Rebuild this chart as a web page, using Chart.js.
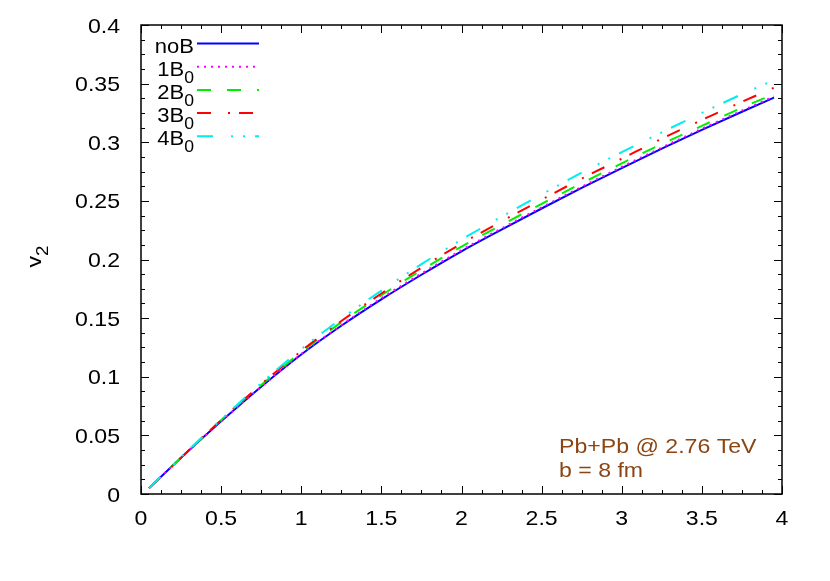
<!DOCTYPE html>
<html>
<head>
<meta charset="utf-8">
<script src="https://cdn.jsdelivr.net/npm/chart.js@4"></script>
<style>body{margin:0;background:#fff}</style>
</head>
<body>
<canvas id="myChart" width="830" height="581"></canvas>
<script>
// values
const xValues = [0.05, 0.25, 0.5, 0.75, 1, 1.25, 1.5, 1.75, 2, 2.25, 2.5, 2.75, 3, 3.25, 3.5, 3.75, 3.95];
const noB = [0.005, 0.031, 0.062, 0.0915, 0.119, 0.1435, 0.166, 0.187, 0.207, 0.2255, 0.2435, 0.261, 0.278, 0.2945, 0.3105, 0.326, 0.338];
const b1 = [0.005, 0.031, 0.062, 0.0915, 0.1195, 0.144, 0.167, 0.188, 0.208, 0.2265, 0.2445, 0.262, 0.279, 0.2955, 0.3115, 0.327, 0.339];
const b2 = [0.005, 0.031, 0.063, 0.093, 0.121, 0.1465, 0.1695, 0.191, 0.211, 0.2295, 0.2475, 0.265, 0.282, 0.2985, 0.314, 0.3295, 0.341];
const b3 = [0.005, 0.031, 0.063, 0.0935, 0.122, 0.1475, 0.171, 0.193, 0.2135, 0.2325, 0.251, 0.269, 0.286, 0.303, 0.319, 0.3345, 0.3465];
const b4 = [0.005, 0.0315, 0.0635, 0.0945, 0.1235, 0.1495, 0.1735, 0.196, 0.217, 0.2365, 0.2555, 0.274, 0.2915, 0.3085, 0.325, 0.341, 0.353];
const seriesLabels = ['noB', '1B_0', '2B_0', '3B_0', '4B_0'];
const xTicks = [0, 0.5, 1, 1.5, 2, 2.5, 3, 3.5, 4];
const yTicks = [0, 0.05, 0.1, 0.15, 0.2, 0.25, 0.3, 0.35, 0.4];
const yTitle = 'v_2';
const noteLines = ['Pb+Pb @ 2.76 TeV', 'b = 8 fm'];

const colors = ['#0000ff', '#ff00ff', '#00ee00', '#ff0000', '#00eeee'];
const dashes = [[], [2, 5], [14, 16], [14, 17, 2, 9], [16, 18, 2, 10, 2, 10]];
const FONT = '"Liberation Sans", Arial, sans-serif';
const SX = 1.1; // gnuplot's text is a little wider than Liberation Sans

const allSeries = [noB, b1, b2, b3, b4];
const datasets = allSeries.map((s, i) => ({
    label: seriesLabels[i],
    data: s.map((v, j) => ({ x: xValues[j], y: v })),
    borderColor: colors[i],
    borderWidth: 2,
    borderDash: dashes[i],
    pointRadius: 0,
    fill: false,
    cubicInterpolationMode: 'monotone',
    order: 5 - i,
}));

const fmt = v => String(+v.toFixed(2));

// plain text, stretched by SX
const drawText = function(ctx, text, x, y, size, align) {
    ctx.save();
    ctx.translate(x, y);
    ctx.scale(SX, 1);
    ctx.font = size + 'px ' + FONT;
    ctx.textAlign = align;
    ctx.textBaseline = 'alphabetic';
    ctx.fillText(text, 0, 0);
    ctx.restore();
};

// text with a gnuplot style "_" subscript
const drawSub = function(ctx, text, x, y, size, align) {
    const parts = text.split('_');
    const subSize = Math.round(size * 0.8);
    ctx.font = size + 'px ' + FONT;
    const w1 = ctx.measureText(parts[0]).width * SX;
    ctx.font = subSize + 'px ' + FONT;
    const w2 = parts[1] ? ctx.measureText(parts[1]).width * SX : 0;
    let x0 = x;
    if (align === 'right') x0 = x - w1 - w2;
    if (align === 'center') x0 = x - (w1 + w2) / 2;
    drawText(ctx, parts[0], x0, y, size, 'left');
    if (parts[1]) drawText(ctx, parts[1], x0 + w1, y + 7, subSize, 'left');
};

const framePlugin = {
    id: 'frame',
    afterDraw(chart) {
        const ctx = chart.ctx;
        const a = chart.chartArea;
        const xs = chart.scales.x, ys = chart.scales.y;
        ctx.save();
        ctx.strokeStyle = '#000';
        ctx.lineWidth = 1;
        // ticks on all four sides, pointing inward
        for (let i = 0; i <= 32; i++) {
            const px = Math.round(xs.getPixelForValue(i * 0.125)) + 0.5;
            const len = i % 4 === 0 ? 8 : 4;
            ctx.beginPath();
            ctx.moveTo(px, a.bottom); ctx.lineTo(px, a.bottom - len);
            ctx.moveTo(px, a.top); ctx.lineTo(px, a.top + len);
            ctx.stroke();
        }
        for (let i = 0; i <= 32; i++) {
            const py = Math.round(ys.getPixelForValue(i * 0.0125)) + 0.5;
            const len = i % 4 === 0 ? 8 : 4;
            ctx.beginPath();
            ctx.moveTo(a.left, py); ctx.lineTo(a.left + len, py);
            ctx.moveTo(a.right, py); ctx.lineTo(a.right - len, py);
            ctx.stroke();
        }
        ctx.lineWidth = 1.5;
        ctx.strokeRect(a.left, a.top, a.right - a.left, a.bottom - a.top);

        // tick labels
        ctx.fillStyle = '#000';
        xs.ticks.forEach(t => drawText(ctx, fmt(t.value), xs.getPixelForValue(t.value), a.bottom + 31, 21, 'center'));
        ys.ticks.forEach(t => drawText(ctx, fmt(t.value), a.left - 21, ys.getPixelForValue(t.value) + 7.5, 21, 'right'));

        // legend, gnuplot style: label right aligned, sample to the right
        chart.data.datasets.forEach((d, i) => {
            const ly = 43.5 + i * 23.2;
            ctx.fillStyle = '#000';
            drawSub(ctx, d.label, 194, ly + 9, 20, 'right');
            ctx.strokeStyle = d.borderColor;
            ctx.lineWidth = 2;
            ctx.setLineDash(d.borderDash);
            ctx.beginPath();
            ctx.moveTo(197, ly); ctx.lineTo(259, ly);
            ctx.stroke();
            ctx.setLineDash([]);
        });

        // y title
        ctx.save();
        ctx.translate(41, (a.top + a.bottom) / 2 - 3);
        ctx.rotate(-Math.PI / 2);
        ctx.fillStyle = '#000';
        drawSub(ctx, yTitle, 0, 0, 21, 'center');
        ctx.restore();

        // note
        ctx.fillStyle = '#8b4513';
        noteLines.forEach((t, i) => drawText(ctx, t, 559, 453 + i * 24, 21, 'left'));
        ctx.restore();
    }
};

new Chart(document.getElementById('myChart'), {
    type: 'line',
    data: { datasets },
    options: {
        responsive: false,
        animation: false,
        devicePixelRatio: 1,
        layout: { padding: { left: 0, top: 25, right: 48, bottom: 0 } },
        plugins: { legend: { display: false }, tooltip: { enabled: false } },
        scales: {
            x: {
                type: 'linear', min: 0, max: 4,
                afterBuildTicks: s => { s.ticks = xTicks.map(v => ({ value: v })); },
                afterFit: s => { s.height = 87; },
                grid: { display: false, drawTicks: false },
                border: { display: false },
                ticks: { display: false },
            },
            y: {
                type: 'linear', min: 0, max: 0.4,
                afterBuildTicks: s => { s.ticks = yTicks.map(v => ({ value: v })); },
                afterFit: s => { s.width = 141; },
                grid: { display: false, drawTicks: false },
                border: { display: false },
                ticks: { display: false },
            },
        },
    },
    plugins: [framePlugin],
});
</script>
</body>
</html>
